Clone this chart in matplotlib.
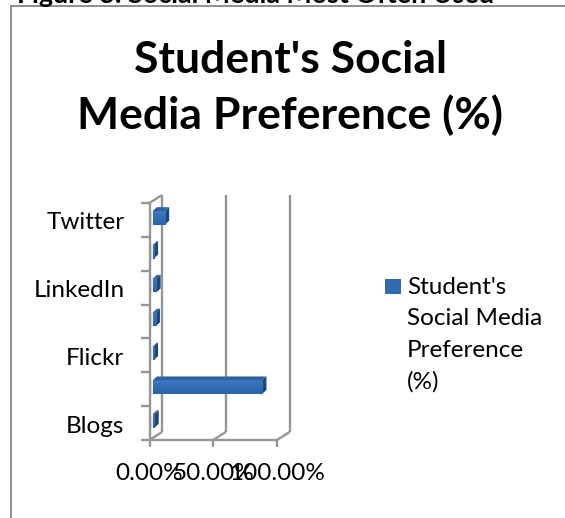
import numpy as np
import matplotlib
matplotlib.use('Agg')
import matplotlib.pyplot as plt
from matplotlib.patches import Polygon
from matplotlib.colors import LinearSegmentedColormap

plt.rcParams['font.family'] = ['Lato', 'DejaVu Sans']

# bottom to top, only every other category label is shown in the chart
categories = ['Blogs', '', 'Flickr', '', 'LinkedIn', '', 'Twitter']
values = [1.5, 86.0, 1.0, 2.5, 3.0, 1.0, 9.7]
xticks = [0, 50, 100]
xticklabels = ['0.00%', '50.00%', '100.00%']
series_name = "Student's\nSocial Media\nPreference\n(%)"
title = "Student's Social\nMedia Preference (%)"
caption = 'Figure 3: Social Media Most Often Used'

W, H = 565, 518
GRAY = '#969696'

fig = plt.figure(figsize=(W / 100, H / 100), dpi=100)
fig.patch.set_facecolor('white')

# plot area = front plane of the fake 3d box
left, right, top, bottom = 149.5, 277, 203, 440
ax = fig.add_axes([left / W, 1 - bottom / H, (right - left) / W, (bottom - top) / H])
ax.set_xlim(0, 100)
ax.set_ylim(0, len(categories))
ax.axis('off')

# depth of the box and of the bars, in data units
x_per_px = 100 / (right - left)
y_per_px = len(categories) / (bottom - top)
dx, dy = 12.5 * x_per_px, 8 * y_per_px
bar_dx, bar_dy = 4.3 * x_per_px, 4 * y_per_px
bar_x0 = 3 * x_per_px
bar_h = 13.5 * y_per_px

line = dict(color=GRAY, lw=1.7, clip_on=False, solid_capstyle='butt')

# back wall gridlines and floor
for t in xticks:
    ax.plot([t, t + dx], [0, dy], **line)
    ax.plot([t + dx, t + dx], [dy, len(categories) + dy], **line)
    ax.plot([t, t], [0, -7 * y_per_px], **line)
ax.plot([0, 100], [0, 0], **line)

# left wall
ax.plot([0, 0], [0, len(categories)], **line)
ax.plot([0, dx], [len(categories), len(categories) + dy], **line)
for i in range(len(categories) + 1):
    ax.plot([-8.5 * x_per_px, 0], [i, i], **line)

# wall under the bars, pale shadow
for i in range(len(categories)):
    yc = i + 0.5 + 2 * y_per_px
    ax.add_patch(Polygon([(0, yc - 10 * y_per_px), (bar_x0, yc - bar_h / 2),
                          (bar_x0, yc + bar_h / 2), (0, yc + bar_h / 2 - 2 * y_per_px)],
                         fc='#e4e4e4', ec='none', clip_on=False, zorder=1.5))

front_cmap = LinearSegmentedColormap.from_list('front', ['#3a78c4', '#2c62a6'])
for i, v in enumerate(values):
    yc = i + 0.5 + 2 * y_per_px
    y0, y1 = yc - bar_h / 2, yc + bar_h / 2
    x0, x1 = bar_x0, bar_x0 + v
    # top and side faces
    ax.add_patch(Polygon([(x0, y1), (x1, y1), (x1 + bar_dx, y1 + bar_dy), (x0 + bar_dx, y1 + bar_dy)],
                         fc='#2e5f9e', ec='none', clip_on=False, zorder=3))
    ax.add_patch(Polygon([(x1, y0), (x1, y1), (x1 + bar_dx, y1 + bar_dy), (x1 + bar_dx, y0 + bar_dy)],
                         fc='#1d4679', ec='none', clip_on=False, zorder=3))
    ax.imshow(np.linspace(0, 1, 16).reshape(-1, 1), cmap=front_cmap, extent=(x0, x1, y0, y1),
              origin='upper', aspect='auto', zorder=4, clip_on=False)
ax.set_xlim(0, 100)
ax.set_ylim(0, len(categories))

for i, c in enumerate(categories):
    ax.text(-25 * x_per_px, i + 0.5 - 3 * y_per_px, c, ha='right', va='center', fontsize=17.5,
            color='black', clip_on=False)
for t, lab in zip(xticks, xticklabels):
    ax.text(t, -34 * y_per_px, lab, ha='center', va='center', fontsize=17.5, color='black', clip_on=False)

# chart border
fig.add_artist(plt.Line2D([11 / W, 11 / W], [0, 1 - 5.5 / H], color='#868686', lw=1.3))
fig.add_artist(plt.Line2D([10.5 / W, 1], [1 - 6 / H, 1 - 6 / H], color='#868686', lw=1.3))

fig.text(17 / W, 1 - 3 / H, caption, ha='left', va='baseline', fontsize=19.4, fontweight='bold', color='black')
fig.text(290 / W, 1 - 88 / H, title, ha='center', va='center', fontsize=32, fontweight='bold',
         color='black', linespacing=1.42)

# legend
fig.patches.append(plt.Rectangle((385 / W, 1 - 294 / H), 16 / W, 15 / H, transform=fig.transFigure,
                                 fc='#3069b0', ec='none'))
fig.text(407 / W, 1 - 335 / H, series_name, ha='left', va='center', fontsize=17.5, color='black', linespacing=1.6)

fig.savefig('out.png', dpi=100)
plt.close(fig)
